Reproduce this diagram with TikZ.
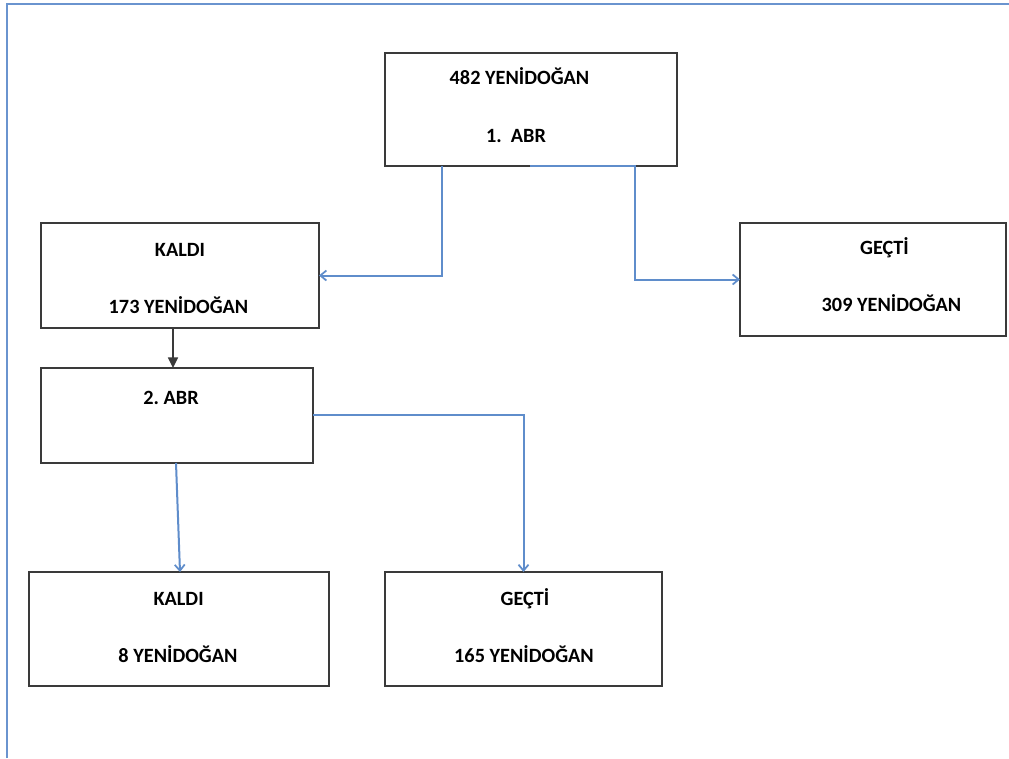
\documentclass[tikz,border=0pt]{standalone}
\usepackage{fontspec}
\setmainfont{Carlito}
\usetikzlibrary{arrows.meta,calc}
\definecolor{boxline}{HTML}{3A3A3A}
\definecolor{flowblue}{HTML}{5F8DCB}
\definecolor{framebl}{HTML}{6A94CF}
\begin{document}
\begin{tikzpicture}[x=0.75pt,y=-0.75pt,
  box/.style={draw=boxline,line width=1.4pt,fill=white,inner sep=0pt,outer sep=0pt,rectangle},
  lbl/.style={font=\bfseries\fontsize{15.2}{17}\selectfont,anchor=base,inner sep=0pt},
  flow/.style={draw=flowblue,line width=1.5pt,-{Straight Barb[length=4.5pt,width=7.5pt,line width=1.3pt]}},
  blk/.style={draw=boxline,line width=1.3pt,-{Triangle[length=8pt,width=7.5pt]}},
  frameline/.style={draw=framebl,line width=1.8pt}]
\useasboundingbox (0,0) rectangle (1009,758);
\fill[white] (0,0) rectangle (1009,758);
% frame
\coordinate (fbl) at (7,758);
\coordinate (ftl) at (7,4);
\coordinate (ftr) at (1009,4);
\draw[frameline] (fbl) -- (ftl) -- (ftr);
% boxes
\node[box,minimum width=219pt,minimum height=84.75pt] (top) at (531,109.5) {};
\node[box,minimum width=208.5pt,minimum height=78.75pt] (kaldi1) at (180,275.5) {};
\node[box,minimum width=199.5pt,minimum height=84.75pt] (gecti1) at (873,279.5) {};
\node[box,minimum width=204pt,minimum height=71.25pt] (abr2) at (177,415.5) {};
\node[box,minimum width=225pt,minimum height=85.5pt] (kaldi2) at (179,629) {};
\node[box,minimum width=207.75pt,minimum height=85.5pt] (gecti2) at (523.5,629) {};
% texts
\node[lbl] (t1) at (519.5,84.5) {482 YENİDOĞAN};
\node[lbl] (t2) at (516,142.7) {1.\ \ ABR};
\node[lbl] (t3) at (180,256.5) {KALDI};
\node[lbl] (t4) at (178.5,313) {173 YENİDOĞAN};
\node[lbl] (t5) at (884.5,254) {GEÇTİ};
\node[lbl] (t6) at (891.5,311.5) {309 YENİDOĞAN};
\node[lbl] (t7) at (171,404) {2.\ ABR};
\node[lbl] (t8) at (178.6,605) {KALDI};
\node[lbl] (t9) at (178,662) {8 YENİDOĞAN};
\node[lbl] (t10) at (525,605) {GEÇTİ};
\node[lbl] (t11) at (524,662) {165 YENİDOĞAN};
% connectors
\draw[flow] ($(top.south west)+(57,0)$) |- (kaldi1.east);
\draw[flow] ([xshift=-0.75pt]top.south) -- ++(105,0) |- (gecti1.west);
\draw[blk] ($(kaldi1.south)+(-7,0)$) -- ($(abr2.north)+(-4,0)$);
\draw[flow] ($(abr2.south)+(-1,0)$) -- ($(kaldi2.north)+(1,0)$);
\draw[flow] ($(abr2.east)+(0,-0.5)$) -| (gecti2.north);
\end{tikzpicture}
\end{document}
